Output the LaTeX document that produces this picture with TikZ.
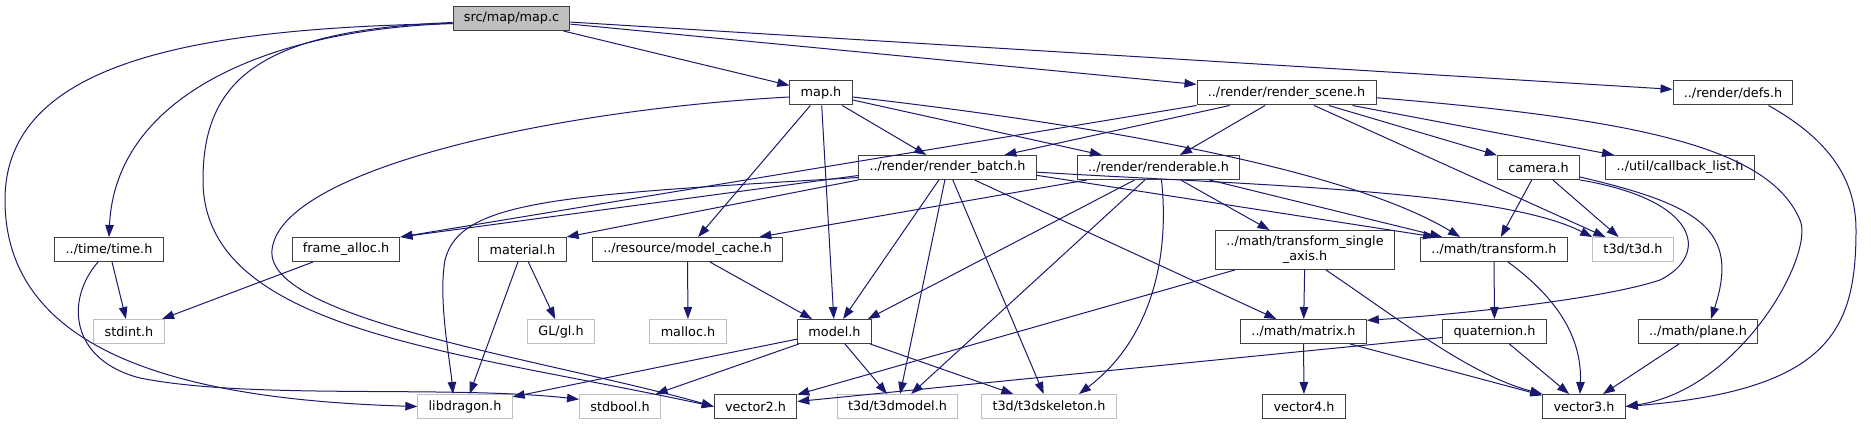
\documentclass[tikz,border=0pt]{standalone}
\usepackage{fontspec}
\setmainfont{DejaVu Sans}
\usepackage{xcolor}
\usepackage{tikz}
\usetikzlibrary{arrows.meta}
\definecolor{edgeblue}{HTML}{191970}
\definecolor{boxgray}{HTML}{BFBFBF}
\definecolor{boxline}{HTML}{404040}
\begin{document}
\begin{tikzpicture}[x=1pt,y=-1pt,
hfile/.style={draw=boxline,line width=1pt,fill=white,inner xsep=10.8pt,inner ysep=0pt,minimum height=24pt,font=\fontsize{12.8}{15}\selectfont},
sysh/.style={hfile,draw=boxgray},
srcfile/.style={hfile,fill=boxgray},
inc/.style={draw=edgeblue,line width=1pt,-{Triangle[length=12pt,width=8.5pt]}}]
\useasboundingbox[fill=white](0,0)rectangle(1871,425);
% files
\node[srcfile](mapc)at(511.5,18.5){src/map/map.c};
\node[hfile](maph)at(821,93){map.h};
\node[hfile](rscene)at(1286.5,93){../render/render\_scene.h};
\node[hfile](defs)at(1733,93){../render/defs.h};
\node[hfile](rbatch)at(947.5,167.5){../render/render\_batch.h};
\node[hfile](rable)at(1158.5,167.5){../render/renderable.h};
\node[hfile](camera)at(1538.5,167.5){camera.h};
\node[hfile](cblist)at(1680,167.5){../util/callback\_list.h};
\node[hfile](timeh)at(109,249.5){../time/time.h};
\node[hfile](falloc)at(346,249.5){frame\_alloc.h};
\node[hfile](material)at(522.5,249.5){material.h};
\node[hfile](mcache)at(687.5,249.5){../resource/model\_cache.h};
\node[hfile,align=center,minimum height=39pt](tsingle)at(1305,250){../math/transform\_single\\\_axis.h};
\node[hfile](transform)at(1494,249.5){../math/transform.h};
\node[sysh](tdd)at(1633,249.5){t3d/t3d.h};
\node[sysh](stdint)at(129,331.5){stdint.h};
\node[sysh](glh)at(561,331.5){GL/gl.h};
\node[sysh](malloc)at(688,331.5){malloc.h};
\node[hfile](model)at(834.5,331.5){model.h};
\node[hfile](matrix)at(1303.5,331.5){../math/matrix.h};
\node[hfile](quat)at(1494.5,331.5){quaternion.h};
\node[hfile](plane)at(1698,331.5){../math/plane.h};
\node[sysh](libdragon)at(465,406.5){libdragon.h};
\node[sysh](stdbool)at(620,406.5){stdbool.h};
\node[hfile](vector2)at(755.5,406.5){vector2.h};
\node[sysh](t3dmodel)at(897.5,406.5){t3d/t3dmodel.h};
\node[sysh](t3dskel)at(1049,406.5){t3d/t3dskeleton.h};
\node[hfile](vector4)at(1304,406.5){vector4.h};
\node[hfile](vector3)at(1584,406.5){vector3.h};
% includes of map.c
\draw[inc](mapc)--(maph);
\draw[inc](mapc)--(rscene);
\draw[inc](mapc)--(defs);
\draw[inc]([yshift=-5pt]mapc.west)..controls(260,30)and(115,100)..(timeh.north);
\draw[inc]([yshift=-5pt]mapc.west)..controls(200,28)and(5,60)..(5,200)..controls(5,360)and(200,400)..(libdragon.west);
\draw[inc]([yshift=-4pt]mapc.west)..controls(260,30)and(203,80)..(203,180)..controls(203,330)and(450,350)..(vector2.west);
% includes of map.h
\draw[inc]([yshift=-4pt]maph.west)..controls(550,110)and(280,170)..(272,250)..controls(265,320)and(550,360)..(vector2.west);
\draw[inc](maph)--(mcache);
\draw[inc](maph)--(model);
\draw[inc](maph)--(rbatch);
\draw[inc](maph)--(rable);
\draw[inc]([yshift=-4pt]maph.east)..controls(1100,125)and(1350,170)..([xshift=40pt]transform.north west);
% render_scene.h
\draw[inc](rscene.south west)--(falloc.north east);
\draw[inc](rscene)--(rbatch);
\draw[inc](rscene)--(rable);
\draw[inc](rscene)--(tdd);
\draw[inc](rscene)--(camera);
\draw[inc](rscene)--(cblist);
\draw[inc](rscene.-3)..controls(1650,120)and(1770,150)..(1800,220)..controls(1815,255)and(1740,390)..(vector3.east);
\draw[inc]([xshift=-25pt]defs.south east)..controls(1830,140)and(1856,180)..(1856,230)..controls(1856,330)and(1830,390)..(vector3.east);
% render_batch.h
\draw[inc]([yshift=-8pt]rbatch.west)--(falloc.north east);
\draw[inc]([yshift=-10pt]rbatch.west)..controls(560,195)and(460,200)..(445,260)..controls(438,300)and(450,360)..([xshift=-12pt]libdragon.north);
\draw[inc](rbatch.south west)--(material.north east);
\draw[inc](rbatch)--(model);
\draw[inc](rbatch)--(t3dmodel);
\draw[inc](rbatch)--(t3dskel);
\draw[inc](rbatch)--(matrix);
\draw[inc](rbatch.-5)--([xshift=15pt]transform.north west);
\draw[inc](rbatch.-3)..controls(1250,185)and(1500,190)..(tdd.north west);
% renderable.h
\draw[inc](rable)--(mcache);
\draw[inc](rable)--([xshift=-4pt]model.north east);
\draw[inc](rable)--(t3dmodel);
\draw[inc]([xshift=3pt]rable.south)..controls(1170,260)and(1150,340)..([xshift=30pt]t3dskel.north);
\draw[inc](rable)--(tsingle);
\draw[inc](rable)--([xshift=22pt]transform.north west);
% camera.h
\draw[inc](camera)--(transform);
\draw[inc](camera)--(tdd);
\draw[inc](camera.south east)..controls(1700,200)and(1710,255)..(1660,280)..controls(1600,300)and(1450,315)..(matrix.10);
\draw[inc]([yshift=3pt]camera.south east)..controls(1700,205)and(1740,230)..([xshift=13pt]plane.north);
% math headers
\draw[inc](tsingle)--(matrix);
\draw[inc]([xshift=21pt]tsingle.south)..controls(1400,320)and(1470,375)..(vector3.north west);
\draw[inc](tsingle)--(vector2);
\draw[inc](transform)--(quat);
\draw[inc]([xshift=14pt]transform.south)..controls(1560,300)and(1582,340)..([xshift=-4pt]vector3.north);
\draw[inc](matrix)--(vector4);
\draw[inc](matrix)--(vector3);
\draw[inc](quat)--(vector3);
\draw[inc]([yshift=-6pt]quat.west)--([yshift=5pt]vector2.east);
\draw[inc](plane)--(vector3);
% the rest
\draw[inc](mcache)--(malloc);
\draw[inc](mcache)--(model);
\draw[inc](material)--(libdragon);
\draw[inc](material)--(glh);
\draw[inc](model)--(libdragon);
\draw[inc](model)--(stdbool);
\draw[inc](model)--(t3dmodel);
\draw[inc](model)--(t3dskel);
\draw[inc](falloc)--(stdint);
\draw[inc](timeh)--(stdint);
\draw[inc]([xshift=-11pt]timeh.south)..controls(65,300)and(70,360)..(140,378)..controls(250,400)and(450,385)..(stdbool.170);
\end{tikzpicture}
\end{document}
